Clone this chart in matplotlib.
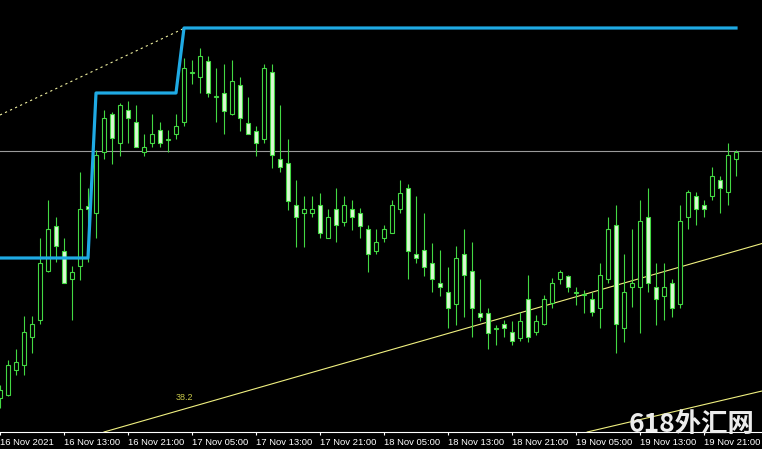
import numpy as np
import matplotlib
matplotlib.use("Agg")
from matplotlib import pyplot as plt

# hourly candles, 16 Nov 05:00 .. 19 Nov 21:00 (price units are chart heights)
opens = [51, 54, 79, 84, 112, 129, 178, 223, 198, 170, 183, 243, 236, 297, 335, 306,
         339, 327, 297, 306, 319, 309, 315, 327, 376, 372, 388, 352, 356, 335, 364, 326,
         318, 310, 377, 290, 286, 244, 236, 236, 244, 211, 240, 227, 240, 236, 220, 198,
         211, 216, 240, 261, 195, 199, 186, 166, 157, 145, 195, 178, 136, 136, 120, 125,
         117, 111, 150, 117, 125, 146, 170, 173, 156, 154, 150, 141, 170, 224, 121, 162,
         162, 232, 162, 153, 166, 145, 232, 253, 244, 253, 269, 257, 290]
highs = [64, 89, 100, 133, 133, 211, 249, 232, 211, 183, 277, 261, 299, 339, 337, 346,
         348, 344, 315, 335, 327, 319, 335, 391, 389, 401, 393, 381, 385, 389, 372, 352,
         323, 385, 385, 344, 310, 269, 253, 253, 256, 240, 261, 253, 249, 241, 224, 220,
         224, 249, 269, 265, 253, 236, 206, 199, 182, 203, 220, 207, 170, 141, 124, 129,
         128, 137, 174, 134, 154, 171, 179, 174, 162, 159, 157, 186, 232, 244, 195, 220,
         249, 261, 186, 186, 170, 244, 259, 257, 249, 282, 273, 306, 299]
lows = [41, 53, 74, 74, 96, 125, 177, 187, 166, 129, 169, 187, 211, 290, 285, 293,
        306, 302, 293, 302, 302, 297, 310, 323, 365, 356, 352, 327, 315, 334, 318, 315,
        293, 306, 281, 277, 239, 202, 202, 232, 211, 211, 207, 223, 219, 211, 177, 195,
        207, 216, 236, 170, 186, 173, 157, 153, 121, 124, 132, 112, 128, 100, 104, 112,
        104, 108, 107, 114, 124, 141, 165, 157, 144, 136, 133, 121, 166, 96, 107, 142,
        116, 157, 124, 129, 132, 141, 220, 224, 232, 249, 236, 244, 273]
closes = [59, 84, 87, 117, 125, 186, 220, 203, 166, 177, 240, 240, 294, 331, 311, 344,
          331, 302, 302, 315, 306, 310, 323, 381, 377, 393, 356, 353, 338, 368, 331, 315,
          306, 381, 294, 282, 248, 232, 240, 240, 216, 232, 224, 244, 232, 223, 195, 207,
          220, 244, 256, 198, 191, 182, 170, 162, 141, 191, 174, 141, 132, 116, 121, 121,
          108, 128, 112, 128, 150, 166, 177, 162, 157, 155, 137, 174, 220, 125, 157, 166,
          228, 166, 150, 162, 141, 228, 257, 240, 240, 273, 261, 294, 297]

# channel (blue step line) level per candle
channel = [191] * 12 + [356] * 11 + [421] * 70

tick_pos = [0, 8, 16, 24, 32, 40, 48, 56, 64, 72, 80, 88]
tick_labels = ["16 Nov 2021", "16 Nov 13:00", "16 Nov 21:00", "17 Nov 05:00",
               "17 Nov 13:00", "17 Nov 21:00", "18 Nov 05:00", "18 Nov 13:00",
               "18 Nov 21:00", "19 Nov 05:00", "19 Nov 13:00", "19 Nov 21:00"]

hline_level = 298
dotted_x = [0, 23.1]
dotted_y = [334, 421]
fib1_x = [13, 96]
fib1_y = [17, 207.2]
fib2_x = [73.4, 96]
fib2_y = [17, 59.4]

W, H = 762, 449
fig = plt.figure(figsize=(W / 100, H / 100), dpi=100, facecolor="black")
ax = fig.add_axes([0, 17 / H, 1, 432 / H], facecolor="black")

x = np.arange(len(opens))
o = np.array(opens, float)
c = np.array(closes, float)
bull = c >= o

green = "#43d843"
ax.vlines(x, lows, highs, color=green, lw=0.8, zorder=2)
bottoms = np.minimum(o, c)
heights = np.maximum(np.abs(c - o), 0.3)
ax.bar(x[bull], heights[bull], bottom=bottoms[bull], width=0.6,
       facecolor="black", edgecolor=green, lw=0.8, zorder=3)
ax.bar(x[~bull], heights[~bull], bottom=bottoms[~bull], width=0.6,
       facecolor="#dcf8d4", edgecolor=green, lw=0.8, zorder=3)

ax.axhline(hline_level, color="#9a9a9a", lw=0.8, zorder=1)
ax.plot(x, channel, color="#1faae4", lw=2.3, zorder=4)
ax.plot(dotted_x, dotted_y, color="#f0f0a0", lw=0.8, ls=(0, (2, 3)), zorder=1)
ax.plot(fib1_x, fib1_y, color="#f0f080", lw=0.8, zorder=1)
ax.plot(fib2_x, fib2_y, color="#f0f080", lw=0.8, zorder=1)
ax.text(23.06, 52, "38.2", color="#c8c84a", fontsize=6.5, ha="center", va="center",
        family="Liberation Sans")

ax.set_xlim(0, W / 8)
ax.set_ylim(17, 449)
for s in ["top", "left", "right"]:
    ax.spines[s].set_visible(False)
ax.spines["bottom"].set_color("white")
ax.spines["bottom"].set_linewidth(0.8)
ax.set_yticks([])
ax.set_xticks(tick_pos)
ax.set_xticklabels(tick_labels, family="Liberation Sans", fontsize=6.8, ha="left")
ax.tick_params(axis="x", direction="out", length=2.5, width=0.8, color="white",
               labelcolor="white", pad=1.5)

fig.text(629 / W, 1 - 425 / H, "618外汇网", color="#ececec", fontsize=19,
         fontweight="bold", family=["Noto Sans CJK SC", "DejaVu Sans"],
         ha="left", va="center")

fig.savefig("out.png", dpi=100, facecolor="black")
